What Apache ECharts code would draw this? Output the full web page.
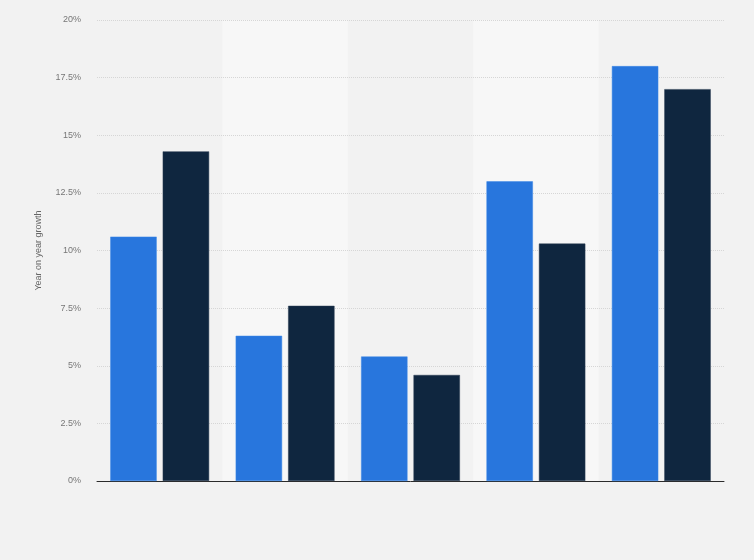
<!DOCTYPE html>
<html>
<head>
<meta charset="utf-8">
<script src="https://cdn.jsdelivr.net/npm/echarts@6/dist/echarts.min.js"></script>
<style>
  html, body { margin: 0; padding: 0; background: #f2f2f2; }
  #chart { width: 754px; height: 560px; }
</style>
</head>
<body>
<div id="chart"></div>
<script>
// categories have no visible labels in the picture
const categories = ['1', '2', '3', '4', '5'];
const seriesA = [10.6, 6.3, 5.4, 13.0, 18.0];
const seriesB = [14.3, 7.6, 4.6, 10.3, 17.0];
const yTicks = [0, 2.5, 5, 7.5, 10, 12.5, 15, 17.5, 20];

const chart = echarts.init(document.getElementById('chart'));

function fmtPct(v) {
    return v + '%';
}

const option = {
    backgroundColor: '#f2f2f2',
    animation: false,
    grid: { left: 97, right: 30, top: 20, bottom: 79 },
    xAxis: {
        type: 'category',
        data: categories,
        z: 0,
        axisLine: { lineStyle: { color: '#2b2b2b', width: 1 } },
        axisTick: { show: false },
        axisLabel: { show: false },
        splitArea: {
            show: true,
            areaStyle: { color: ['rgba(0,0,0,0)', '#f7f7f7'] }
        }
    },
    yAxis: {
        type: 'value',
        z: 1,
        min: yTicks[0],
        max: yTicks[yTicks.length - 1],
        interval: 2.5,
        name: 'Year on year growth',
        nameLocation: 'middle',
        nameGap: 54,
        nameTextStyle: { color: '#666', fontSize: 9, fontFamily: 'Arial, Liberation Sans, sans-serif' },
        axisLine: { show: false },
        axisTick: { show: false },
        axisLabel: {
            color: '#777',
            fontSize: 9,
            margin: 16,
            fontFamily: 'Arial, Liberation Sans, sans-serif',
            formatter: fmtPct
        },
        splitLine: {
            showMinLine: false,
            lineStyle: { color: '#d6d6d6', type: [1, 1], width: 1 }
        }
    },
    series: [
        {
            type: 'bar',
            data: seriesA,
            barWidth: '37%',
            barGap: '13%',
            itemStyle: { color: '#2876dd', borderColor: '#3a86e6', borderWidth: 0.5 }
        },
        {
            type: 'bar',
            data: seriesB,
            barWidth: '37%',
            itemStyle: { color: '#0f263f', borderColor: '#2a3d52', borderWidth: 0.5 }
        }
    ]
};

chart.setOption(option);
</script>
</body>
</html>
